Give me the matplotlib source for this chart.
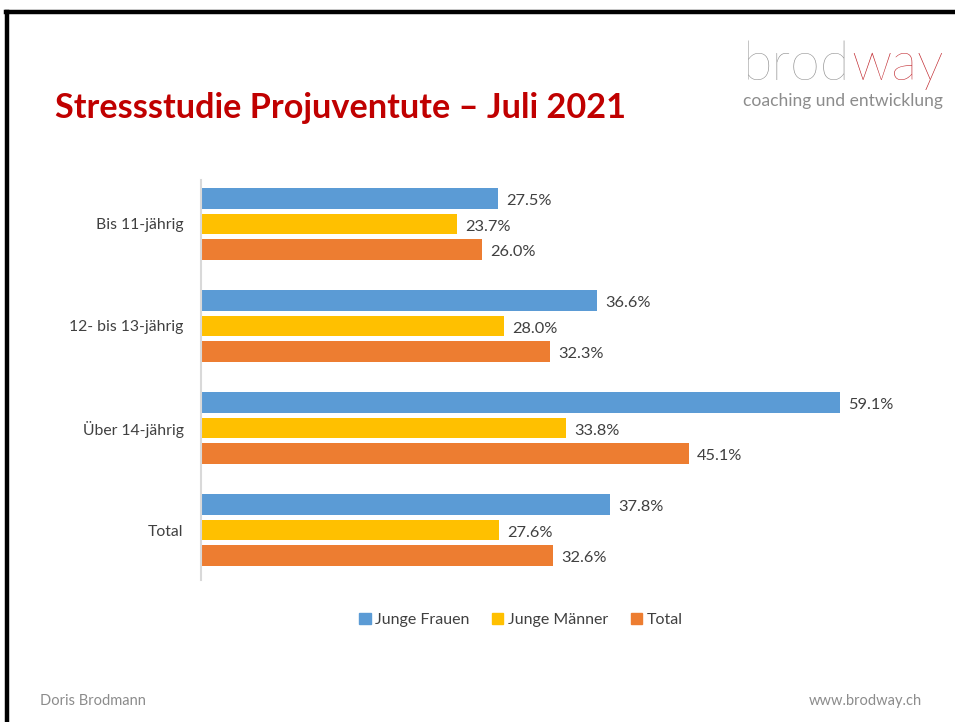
import matplotlib
matplotlib.use("Agg")
import matplotlib.pyplot as plt
from matplotlib.lines import Line2D
from matplotlib.patches import Rectangle
import numpy as np

# data
categories = ["Bis 11-jährig", "12- bis 13-jährig", "Über 14-jährig", "Total"]
series_names = ["Junge Frauen", "Junge Männer", "Total"]
junge_frauen = [27.5, 36.6, 59.1, 37.8]
junge_maenner = [23.7, 28.0, 33.8, 27.6]
total = [26.0, 32.3, 45.1, 32.6]
colors = ["#5B9BD5", "#FFC000", "#ED7D31"]

W, H = 955, 722
plt.rcParams['font.family'] = ['Lato', 'DejaVu Sans']

fig = plt.figure(figsize=(W / 100, H / 100), dpi=100)

def fx(px):
    return px / W

def fy(py):
    return 1 - py / H

# frame of the slide (top and left only)
fig.add_artist(Line2D([fx(6), fx(955)], [fy(12), fy(12)], color='black', lw=3.2))
fig.add_artist(Line2D([fx(7), fx(7)], [fy(12), fy(722)], color='black', lw=3.2))

# title
fig.text(fx(55), fy(108), "Stressstudie Projuventute \u2013 Juli 2021", color='#C00000',
         fontsize=24.7, fontweight='bold', va='center', ha='left')

# logo
t1 = fig.text(fx(743), fy(80), "brod", color='#8C8C8C', fontsize=39, fontweight='light',
              va='baseline', ha='left')
fig.canvas.draw()
bb = t1.get_window_extent()
fig.text(bb.x1 / W + fx(1), fy(80), "way", color='#C0272D', fontsize=39, fontweight='light',
         va='baseline', ha='left')
fig.text(fx(943), fy(101), "coaching und entwicklung", color='#8C8C8C', fontsize=12.6,
         va='center', ha='right')

# footer
fig.text(fx(40), fy(701), "Doris Brodmann", color='#8C8C8C', fontsize=10.5, va='center', ha='left')
fig.text(fx(922), fy(701), "www.brodway.ch", color='#8C8C8C', fontsize=10.5, va='center', ha='right')

# chart area
ax_left, ax_right, ax_top, ax_bot = 201, 921, 180, 580
ax = fig.add_axes([fx(ax_left), fy(ax_bot), fx(ax_right - ax_left), (ax_bot - ax_top) / H])
px_per_unit = 639 / 59.1
ax.set_xlim(0, (ax_right - ax_left) / px_per_unit)
ax.set_ylim(3.49, -0.431)

y = np.arange(len(categories))
offsets = [-0.25, 0.0, 0.25]
bar_h = 0.2
for vals, off, col in zip([junge_frauen, junge_maenner, total], offsets, colors):
    ax.barh(y + off, vals, height=bar_h, color=col, edgecolor='none')
    for yi, v in zip(y, vals):
        ax.text(v + 0.75, yi + off + 0.025, f"{v:.1f}%", va='center', ha='left',
                fontsize=11.8, color='#404040')

ax.set_yticks(y)
ax.set_yticklabels(categories, fontsize=11.3, color='#404040')
ax.tick_params(axis='y', length=0, pad=12.5)
ax.set_xticks([])
for s in ['top', 'right', 'bottom']:
    ax.spines[s].set_visible(False)
ax.spines['left'].set_color('#D9D9D9')
ax.spines['left'].set_linewidth(1.5)

# legend
handles = [Rectangle((0, 0), 1, 1, color=c) for c in colors]
fig.legend(handles, series_names, loc='center', bbox_to_anchor=(fx(521), fy(620)),
           ncol=3, frameon=False, fontsize=11.5, handlelength=0.7, handleheight=0.7,
           handletextpad=0.3, columnspacing=1.4, labelcolor='#404040')

fig.savefig("out.png", dpi=100)
